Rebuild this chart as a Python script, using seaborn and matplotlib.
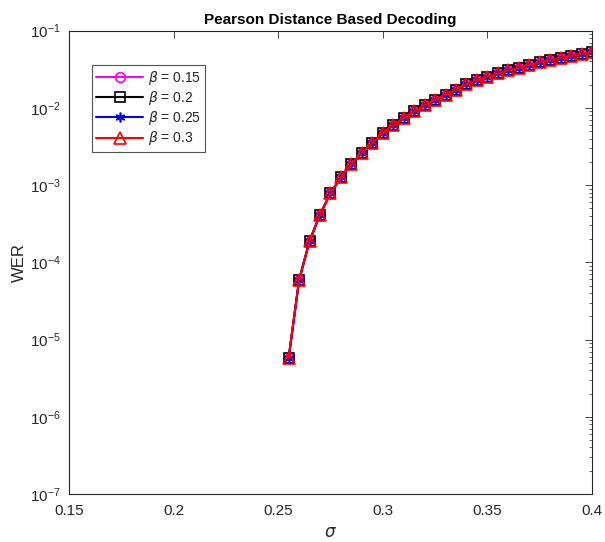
import numpy as np
import pandas as pd
import matplotlib
matplotlib.use("Agg")
import matplotlib.pyplot as plt
import seaborn as sns
from matplotlib.ticker import FixedLocator, LogFormatterSciNotation, NullFormatter

sigma = [0.255, 0.26, 0.265, 0.27, 0.275, 0.28, 0.285, 0.29, 0.295, 0.30,
         0.305, 0.31, 0.315, 0.32, 0.325, 0.33, 0.335, 0.34, 0.345, 0.35,
         0.355, 0.36, 0.365, 0.37, 0.375, 0.38, 0.385, 0.39, 0.395, 0.40]

wer_b015 = [5.75e-6, 5.9e-5, 1.89e-4, 4.16e-4, 7.8e-4, 1.27e-3, 1.88e-3, 2.6e-3, 3.5e-3, 4.73e-3,
            6.0e-3, 7.4e-3, 9.0e-3, 1.08e-2, 1.28e-2, 1.49e-2, 1.73e-2, 2.02e-2, 2.27e-2, 2.53e-2,
            2.79e-2, 3.05e-2, 3.33e-2, 3.6e-2, 3.88e-2, 4.16e-2, 4.45e-2, 4.74e-2, 5.02e-2, 5.3e-2]
wer_b02 = [5.75e-6, 5.9e-5, 1.89e-4, 4.16e-4, 7.8e-4, 1.27e-3, 1.88e-3, 2.6e-3, 3.5e-3, 4.73e-3,
           6.0e-3, 7.4e-3, 9.0e-3, 1.08e-2, 1.28e-2, 1.49e-2, 1.73e-2, 2.02e-2, 2.27e-2, 2.53e-2,
           2.79e-2, 3.05e-2, 3.33e-2, 3.6e-2, 3.88e-2, 4.16e-2, 4.45e-2, 4.74e-2, 5.02e-2, 5.3e-2]
wer_b025 = [5.75e-6, 5.9e-5, 1.89e-4, 4.16e-4, 7.8e-4, 1.27e-3, 1.88e-3, 2.6e-3, 3.5e-3, 4.73e-3,
            6.0e-3, 7.4e-3, 9.0e-3, 1.08e-2, 1.28e-2, 1.49e-2, 1.73e-2, 2.02e-2, 2.27e-2, 2.53e-2,
            2.79e-2, 3.05e-2, 3.33e-2, 3.6e-2, 3.88e-2, 4.16e-2, 4.45e-2, 4.74e-2, 5.02e-2, 5.3e-2]
wer_b03 = [5.75e-6, 5.9e-5, 1.89e-4, 4.16e-4, 7.8e-4, 1.27e-3, 1.88e-3, 2.6e-3, 3.5e-3, 4.73e-3,
           6.0e-3, 7.4e-3, 9.0e-3, 1.08e-2, 1.28e-2, 1.49e-2, 1.73e-2, 2.02e-2, 2.27e-2, 2.53e-2,
           2.79e-2, 3.05e-2, 3.33e-2, 3.6e-2, 3.88e-2, 4.16e-2, 4.45e-2, 4.74e-2, 5.02e-2, 5.3e-2]

labels = [r"$\beta$ = 0.15", r"$\beta$ = 0.2", r"$\beta$ = 0.25", r"$\beta$ = 0.3"]
series = [wer_b015, wer_b02, wer_b025, wer_b03]
colors = ["#ff00ff", "#000000", "#0000ff", "#ff0000"]
markers = ["o", "s", (6, 2, 0), "^"]
msizes = [7, 7, 7, 8.5]

x_ticks = [0.15, 0.2, 0.25, 0.3, 0.35, 0.4]
y_ticks = [1e-7, 1e-6, 1e-5, 1e-4, 1e-3, 1e-2, 1e-1]

sns.set_theme(style="white")
plt.rcParams["font.family"] = ["Liberation Sans", "DejaVu Sans"]
plt.rcParams["mathtext.fontset"] = "dejavusans"

fig = plt.figure(figsize=(6.05, 5.42), dpi=100)
ax = fig.add_axes([0.114, 0.0886, 0.8645, 0.8548])

for vals, lab, col, mk, ms in zip(series, labels, colors, markers, msizes):
    df = pd.DataFrame({"sigma": sigma, "wer": vals})
    sns.lineplot(data=df, x="sigma", y="wer", ax=ax, color=col, marker=mk,
                 markersize=ms, markerfacecolor="none", markeredgecolor=col,
                 markeredgewidth=1.2, linewidth=1.5, label=lab)

ax.set_yscale("log")
ax.set_xlim(0.15, 0.4)
ax.set_ylim(1e-7, 1e-1)
ax.xaxis.set_major_locator(FixedLocator(x_ticks))
ax.set_xticklabels([f"{t:g}" for t in x_ticks])
ax.yaxis.set_major_locator(FixedLocator(y_ticks))
ax.yaxis.set_major_formatter(LogFormatterSciNotation())
minor = [m * d for d in y_ticks[:-1] for m in range(2, 10)]
ax.yaxis.set_minor_locator(FixedLocator(minor))
ax.yaxis.set_minor_formatter(NullFormatter())

axc = "#262626"
for s in ax.spines.values():
    s.set_visible(True)
    s.set_color(axc)
    s.set_linewidth(0.8)
ax.tick_params(which="both", direction="in", top=True, right=True, colors=axc,
               labelcolor="#262626", labelsize=11)
ax.tick_params(which="major", length=5, width=0.6)
ax.tick_params(axis="x", which="major", pad=7)
ax.tick_params(axis="y", which="major", pad=6)
ax.tick_params(which="minor", length=2.5, width=0.5, bottom=False, top=False)

ax.set_xlabel(r"$\sigma$", fontsize=12, color="#262626", labelpad=5)
ax.set_ylabel("WER", fontsize=12, color="#262626", labelpad=2)
ax.set_title("Pearson Distance Based Decoding", fontsize=11, fontweight="bold",
             color="black", pad=5)

leg = ax.legend(loc="upper left", bbox_to_anchor=(0.044, 0.926), fontsize=10,
                frameon=True, fancybox=False, handlelength=3.4, borderpad=0.3,
                labelspacing=0.15, handletextpad=0.3, borderaxespad=0)
leg.get_frame().set_edgecolor("#262626")
leg.get_frame().set_linewidth(0.8)

fig.savefig("out.png", dpi=100, facecolor="white")
